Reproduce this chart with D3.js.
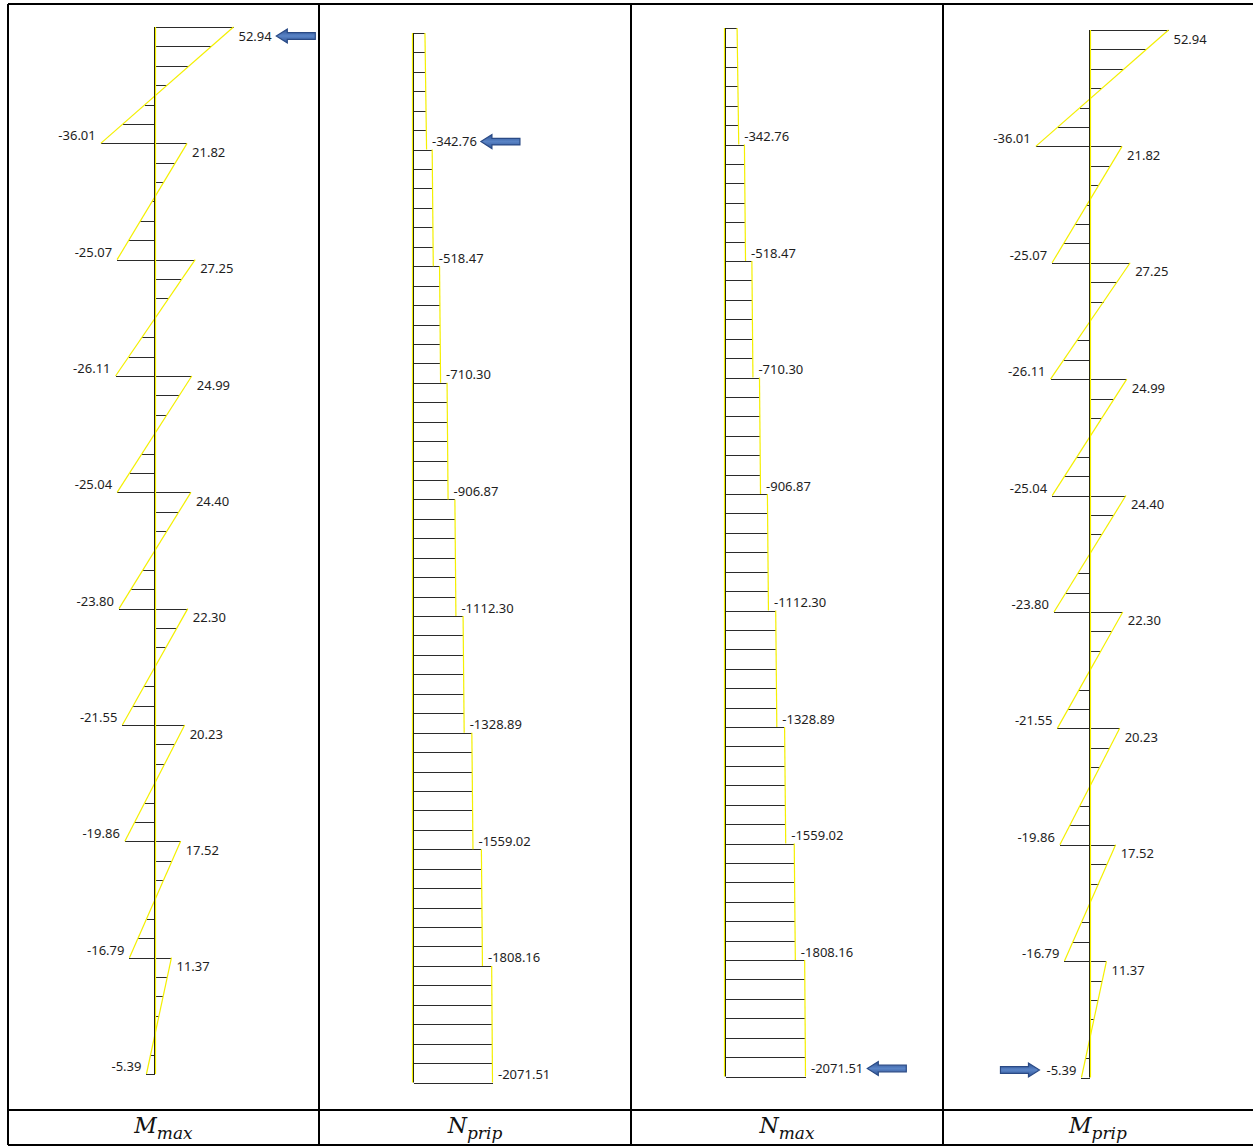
<!DOCTYPE html>
<html><head><meta charset="utf-8">
<script src="https://cdn.jsdelivr.net/npm/d3@7"></script>
<style>
html,body{margin:0;padding:0;background:#fff;}
svg{display:block;}
</style></head>
<body>
<svg id="chart" width="1253" height="1146"></svg>
<script>
// ---------- data ----------
const storeys = [1, 2, 3, 4, 5, 6, 7, 8, 9];
const mTop    = [52.94, 21.82, 27.25, 24.99, 24.40, 22.30, 20.23, 17.52, 11.37];
const mBottom = [-36.01, -25.07, -26.11, -25.04, -23.80, -21.55, -19.86, -16.79, -5.39];
const nTop    = [-300, -490, -683, -880, -1085, -1300, -1530, -1780, -2050];
const nBottom = [-342.76, -518.47, -710.30, -906.87, -1112.30, -1328.89, -1559.02, -1808.16, -2071.51];
const titleMain = ["M", "N", "N", "M"];
const titleSub  = ["max", "prip", "max", "prip"];
const panelKind = ["M", "N", "N", "M"];
// arrow markers: which label each arrow points at
const arrowPanel  = [0, 1, 2, 3];
const arrowStorey = [0, 0, 8, 8];
const arrowEnd    = ["top", "bottom", "bottom", "bottom"];
const arrowDir    = ["left", "left", "left", "right"];

// ---------- layout ----------
const svg = d3.select("#chart");
const W = 1253, H = 1146;
const colX = [8, 319, 631, 943, 1253];
const yTopBorder = 4, yTitleLine = 1110, yBottom = 1145;

const panels = [
  {axis: 154.5, y0: 27,  y1: 1074},
  {axis: 413.5, y0: 33,  y1: 1082.5},
  {axis: 725.5, y0: 28,  y1: 1076.5},
  {axis: 1089.5, y0: 30, y1: 1077.5}
];

const YEL = "#f4f000";
const HATCH = "#2b2b2b";
const FONT = "'Noto Sans', 'Open Sans', sans-serif";
const fmt = v => v.toFixed(2);

const defs = svg.append("defs");
const grad = defs.append("linearGradient").attr("id", "arrowGrad")
  .attr("x1", 0).attr("y1", 0).attr("x2", 0).attr("y2", 1);
grad.append("stop").attr("offset", "0%").attr("stop-color", "#2d5294");
grad.append("stop").attr("offset", "50%").attr("stop-color", "#5a84c6");
grad.append("stop").attr("offset", "100%").attr("stop-color", "#2d5294");

const labelNodes = {};

panels.forEach((p, pi) => {
  const g = svg.append("g");
  const y = d3.scaleLinear().domain([0, storeys.length]).range([p.y0, p.y1]);
  const kind = panelKind[pi];
  const x = kind === "M"
    ? d3.scaleLinear().domain([0, 52.94]).range([p.axis, p.axis + 79])
    : d3.scaleLinear().domain([0, -2071.51]).range([p.axis, p.axis + (pi === 1 ? 79 : 80)]);

  const hatch = g.append("g").attr("stroke", HATCH).attr("stroke-width", 1)
    .attr("shape-rendering", "crispEdges");
  const outline = g.append("g").attr("stroke", YEL).attr("stroke-width", 1.2).attr("fill", "none");
  const labels = g.append("g").attr("font-family", FONT).attr("font-size", 13).attr("fill", "#1e1e1e");

  const topVals = kind === "M" ? mTop : nTop;
  const botVals = kind === "M" ? mBottom : nBottom;

  storeys.forEach((s, i) => {
    const t = topVals[i], b = botVals[i];
    const ya = y(i), yb = y(i + 1);
    const nDiv = 6;
    for (let k = 0; k <= nDiv; k++) {
      const v = t + (b - t) * k / nDiv;
      const yy = Math.round(ya + (yb - ya) * k / nDiv) + 0.5;
      let xe = x(v);
      if (kind === "N" && k === nDiv && i < storeys.length - 1) xe = x(topVals[i + 1]);
      hatch.append("line").attr("x1", p.axis).attr("x2", xe).attr("y1", yy).attr("y2", yy);
    }
    outline.append("line")
      .attr("x1", x(t)).attr("y1", ya).attr("x2", x(b)).attr("y2", yb);

    if (kind === "M") {
      const lt = labels.append("text").attr("x", x(t) + 5).attr("y", ya + 13.5).text(fmt(t));
      labelNodes[pi + "-" + i + "-top"] = lt.node();
      const lb = labels.append("text").attr("x", x(b) - 5).attr("y", yb - 3)
        .attr("text-anchor", "end").text(fmt(b));
      labelNodes[pi + "-" + i + "-bottom"] = lb.node();
    } else {
      const lb = labels.append("text").attr("x", x(b) + 5.5).attr("y", yb - 3.5).text(fmt(b));
      labelNodes[pi + "-" + i + "-bottom"] = lb.node();
    }
  });

  g.append("line").attr("x1", p.axis).attr("x2", p.axis).attr("y1", p.y0).attr("y2", p.y1)
    .attr("stroke", "#111").attr("stroke-width", 1);
  g.append("line").attr("x1", kind === "M" ? p.axis + 1 : p.axis - 1)
    .attr("x2", kind === "M" ? p.axis + 1 : p.axis - 1)
    .attr("y1", p.y0).attr("y2", p.y1)
    .attr("stroke", YEL).attr("stroke-width", 1.2);
});

// ---------- arrows ----------
arrowPanel.forEach((pi, ai) => {
  const node = labelNodes[pi + "-" + arrowStorey[ai] + "-" + arrowEnd[ai]];
  const bb = node.getBBox();
  const cy = bb.y + bb.height / 2 + 0.5;
  const L = 39, hl = 11, hh = 7, sh = 3.3;
  let pts;
  if (arrowDir[ai] === "left") {
    const tip = bb.x + bb.width + 4;
    pts = [[tip, cy], [tip + hl, cy - hh], [tip + hl, cy - sh], [tip + L, cy - sh],
           [tip + L, cy + sh], [tip + hl, cy + sh], [tip + hl, cy + hh]];
  } else {
    const tip = bb.x - 7;
    pts = [[tip, cy], [tip - hl, cy - hh], [tip - hl, cy - sh], [tip - L, cy - sh],
           [tip - L, cy + sh], [tip - hl, cy + sh], [tip - hl, cy + hh]];
  }
  svg.append("polygon").attr("points", pts.map(d => d.join(",")).join(" "))
    .attr("fill", "url(#arrowGrad)").attr("stroke", "#2a4a85").attr("stroke-width", 1.2);
});

// ---------- table borders ----------
const bord = svg.append("g").attr("stroke", "#000").attr("shape-rendering", "crispEdges");
bord.append("line").attr("x1", colX[0]).attr("x2", W).attr("y1", yTopBorder).attr("y2", yTopBorder).attr("stroke-width", 1.5);
bord.append("line").attr("x1", colX[0]).attr("x2", W).attr("y1", yTitleLine).attr("y2", yTitleLine).attr("stroke-width", 2);
bord.append("line").attr("x1", colX[0]).attr("x2", W).attr("y1", yBottom).attr("y2", yBottom).attr("stroke-width", 1.5);
colX.slice(0, 4).forEach(cx => {
  bord.append("line").attr("x1", cx).attr("x2", cx).attr("y1", yTopBorder).attr("y2", yBottom).attr("stroke-width", 1.5);
});

// ---------- titles ----------
titleMain.forEach((m, i) => {
  const cx = (colX[i] + colX[i + 1]) / 2;
  const t = svg.append("text").attr("x", cx).attr("y", 1133)
    .attr("text-anchor", "middle")
    .attr("font-family", "'DejaVu Serif', 'Liberation Serif', serif")
    .attr("font-style", "italic").attr("font-size", 22).attr("fill", "#111");
  t.append("tspan").text(m);
  t.append("tspan").attr("font-size", 17).attr("dy", 6).text(titleSub[i]);
});
</script>
</body></html>
